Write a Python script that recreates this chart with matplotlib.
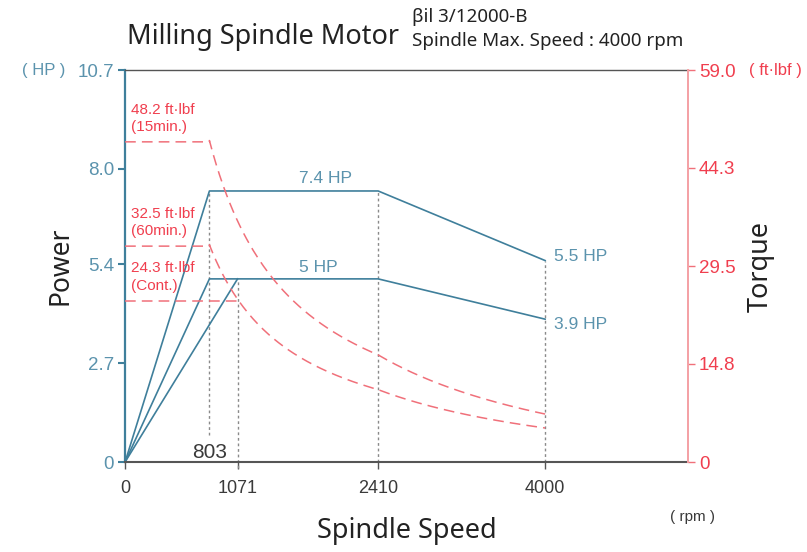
import numpy as np
import matplotlib.pyplot as plt

# power curves (rpm, HP)
speed_15min = [0, 803, 2410, 4000]
power_15min = [0, 7.4, 7.4, 5.5]
speed_60min = [0, 803, 2410, 4000]
power_60min = [0, 5.0, 5.0, 3.9]
speed_cont = [0, 1071]
power_cont = [0, 5.0]

# rated torque plateaus (ft-lbf) and where they end (rpm)
torque_15min = 48.2
torque_60min = 32.5
torque_cont = 24.3
knee_15min = 803
knee_60min = 803
knee_cont = 1071

x_ticks = [0, 1071, 2410, 4000]
hp_ticks = [0, 2.7, 5.4, 8.0, 10.7]
hp_tick_labels = ['0', '2.7', '5.4', '8.0', '10.7']
tq_ticks = [0, 14.8, 29.5, 44.3, 59.0]
tq_tick_labels = ['0', '14.8', '29.5', '44.3', '59.0']

BLUE = '#3f7f9b'
BLUE_TXT = '#5b93ad'
RED = '#f0707a'
RED_TXT = '#f03e4e'
GRAY = '#8a8a8a'
DARK = '#3a3a3a'
NUM = 'Liberation Sans'
TXT = 'Noto Sans'


def torque_curve(speeds, powers, plateau, knee):
    # flat plateau up to the knee, then T = 5252 * P / n
    n = np.linspace(knee, speeds[-1], 200)
    p = np.interp(n, speeds, powers)
    t = 5252 * p / n
    return np.concatenate([[0, knee], n]), np.concatenate([[plateau, plateau], t])


fig = plt.figure(figsize=(8.07, 5.52), dpi=100)
ax = fig.add_axes([0.155, 0.163, 0.6975, 0.71])
ax2 = ax.twinx()

ax.set_xlim(0, 5360)
ax.set_ylim(0, 10.7)
ax2.set_ylim(0, 59.0)

# dotted guides
ax.plot([803, 803], [0.75, 7.4], ls=(0, (2, 2)), color=GRAY, lw=1)
ax.plot([1071, 1071], [-0.15, 5.0], ls=(0, (2, 2)), color=GRAY, lw=1, clip_on=False)
ax.plot([2410, 2410], [0, 7.4], ls=(0, (2, 2)), color=GRAY, lw=1)
ax.plot([4000, 4000], [0, 5.5], ls=(0, (2, 2)), color=GRAY, lw=1)

# power
ax.plot(speed_15min, power_15min, color=BLUE, lw=1.2)
ax.plot(speed_60min, power_60min, color=BLUE, lw=1.2)
ax.plot(speed_cont, power_cont, color=BLUE, lw=1.2)

# torque
dash = (0, (7, 4))
for spd, pw, plat, knee in [(speed_15min, power_15min, torque_15min, knee_15min),
                            (speed_60min, power_60min, torque_60min, knee_60min)]:
    n, t = torque_curve(spd, pw, plat, knee)
    ax2.plot(n, t, color=RED, lw=1.1, ls=dash)
ax2.plot([0, knee_cont], [torque_cont, torque_cont], color=RED, lw=1.1, ls=dash)

# spines
ax.spines['left'].set_color(BLUE)
ax.spines['left'].set_linewidth(1.6)
ax.spines['bottom'].set_color('#555555')
ax.spines['bottom'].set_linewidth(1.5)
ax.spines['top'].set_color('#555555')
ax.spines['top'].set_linewidth(1)
ax.spines['right'].set_visible(False)
ax2.spines['right'].set_color('#f4a0a4')
ax2.spines['right'].set_linewidth(1.4)
for s in ['left', 'top', 'bottom']:
    ax2.spines[s].set_visible(False)

ax.set_xticks(x_ticks)
ax.set_xticklabels([str(v) for v in x_ticks], fontname=NUM, fontsize=13, color=DARK)
ax.tick_params(axis='x', length=5, width=1, color='#555555', pad=8)
ax.set_yticks(hp_ticks)
ax.set_yticklabels(hp_tick_labels, fontname=NUM, fontsize=13.5, color=BLUE_TXT)
ax.tick_params(axis='y', length=5, width=1.5, color=BLUE, pad=3)
ax2.set_yticks(tq_ticks)
ax2.set_yticklabels(tq_tick_labels, fontname=NUM, fontsize=13.5, color=RED_TXT)
ax2.tick_params(axis='y', length=5, width=1, color=RED, pad=3)

ax.set_xlabel('Spindle Speed', fontname=TXT, fontsize=19.5, color='#222222', labelpad=14)
ax.set_ylabel('Power', fontname=TXT, fontsize=19, color='#222222', labelpad=2)
ax2.set_ylabel('Torque', fontname=TXT, fontsize=19.5, color='#222222', labelpad=8)

# unit labels
fig.text(44 / 807, 1 - 70 / 552, '( HP )', fontname=NUM, fontsize=12, color=BLUE_TXT,
         ha='center', va='center')
fig.text(749 / 807, 1 - 70 / 552, '( ft·lbf )', fontname=NUM, fontsize=12, color=RED_TXT,
         ha='left', va='center')
fig.text(693 / 807, 1 - 517 / 552, '( rpm )', fontname=NUM, fontsize=11, color=DARK,
         ha='center', va='center')

# titles
fig.text(127 / 807, 1 - 37 / 552, 'Milling Spindle Motor', fontname=TXT, fontsize=19.5,
         color='#222222', ha='left', va='center')
fig.text(412 / 807, 1 - 17 / 552, 'βil 3/12000-B', fontname=TXT, fontsize=13.5,
         color='#222222', ha='left', va='center')
fig.text(412 / 807, 1 - 41 / 552, 'Spindle Max. Speed : 4000 rpm', fontname=TXT, fontsize=13.5,
         color='#222222', ha='left', va='center')

# curve annotations
ax.text(1910, 7.75, '7.4 HP', fontname=NUM, fontsize=12.5, color=BLUE_TXT, ha='center', va='center')
ax.text(1840, 5.3, '5 HP', fontname=NUM, fontsize=12.5, color=BLUE_TXT, ha='center', va='center')
ax.text(4080, 5.6, '5.5 HP', fontname=NUM, fontsize=12.5, color=BLUE_TXT, ha='left', va='center')
ax.text(4080, 3.75, '3.9 HP', fontname=NUM, fontsize=12.5, color=BLUE_TXT, ha='left', va='center')
ax.text(803, 0.26, '803', fontname=NUM, fontsize=15, color=DARK, ha='center', va='center')

for tq, tag in [(torque_15min, '(15min.)'), (torque_60min, '(60min.)'), (torque_cont, '(Cont.)')]:
    ax2.text(60, tq + 1.2, f'{tq} ft·lbf\n{tag}', fontname=NUM, fontsize=11, color=RED_TXT,
             ha='left', va='bottom', linespacing=1.3)

fig.savefig('out.png', dpi=100)
